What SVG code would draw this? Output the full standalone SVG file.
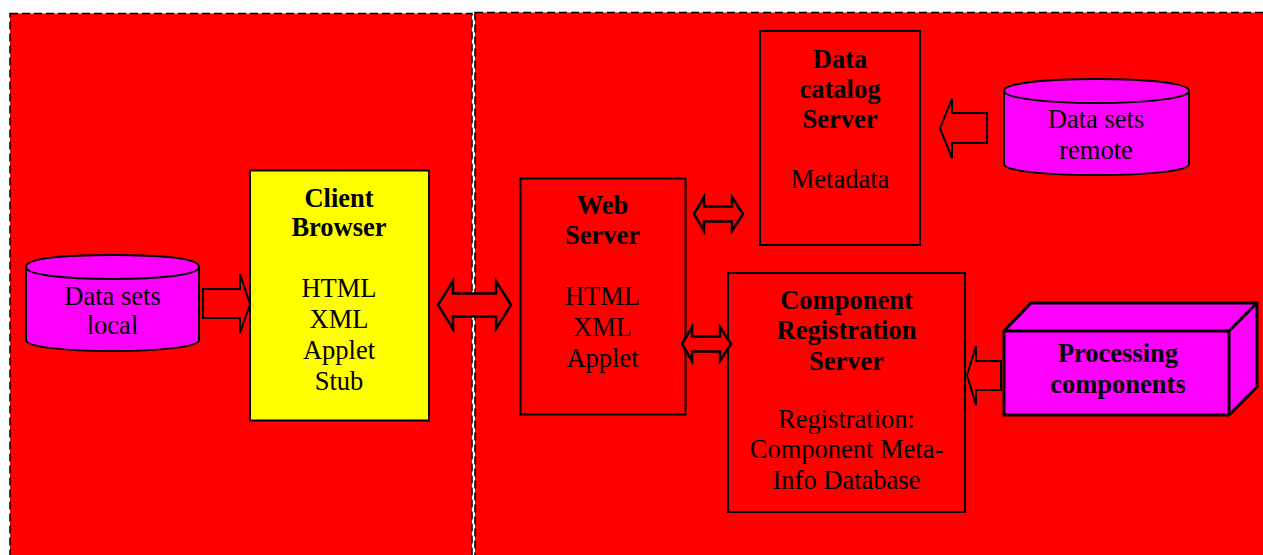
<svg xmlns="http://www.w3.org/2000/svg" width="1263" height="555" viewBox="0 0 1263 555">
<style>
.panel{fill:#f00;stroke:#000;stroke-width:1.5;stroke-dasharray:8 4}
.box{stroke:#000;stroke-width:2;fill:#f00}
.mag{fill:#f0f;stroke:#000;stroke-width:2}
.arrow{fill:#f00;stroke:#000;stroke-width:2}
.darrow{fill:#f00;stroke:#000;stroke-width:2.5}
text{font-family:"Liberation Serif","Times New Roman",serif;font-size:26.5px;text-anchor:middle;fill:#000}
.b{font-weight:bold}
</style>
<rect width="1263" height="555" fill="#fff"/>
<g id="panel-client"><rect class="panel" x="10" y="13.500" width="462" height="560"/></g>
<g id="panel-server"><rect class="panel" x="475" y="12.500" width="800" height="560"/></g>
<g id="node-local">
<path class="mag" d="M26 267C26 258 65 255 112.500 255S199 258 199 267V340C199 347 160 351 112.500 351S26 347 26 340Z"/>
<path class="mag" d="M26 267C26 275 65 279 112.500 279S199 275 199 267" style="fill:none"/>
<text x="112.500" y="305">Data sets</text><text x="112.500" y="334">local</text>
</g>
<g id="node-client">
<rect class="box" x="250" y="170.500" width="179" height="250" style="fill:#ff0"/>
<text class="b" x="339" y="207">Client</text><text class="b" x="339" y="236">Browser</text>
<text x="339" y="297">HTML</text><text x="339" y="328">XML</text><text x="339" y="359">Applet</text><text x="339" y="390">Stub</text>
</g>
<g id="node-web">
<rect class="box" x="520.500" y="178.500" width="165" height="236"/>
<text class="b" x="602.500" y="214">Web</text><text class="b" x="602.500" y="244">Server</text>
<text x="602.500" y="305">HTML</text><text x="602.500" y="336">XML</text><text x="602.500" y="367">Applet</text>
</g>
<g id="node-catalog">
<rect class="box" x="760" y="31" width="160" height="214"/>
<text class="b" x="840" y="68">Data</text><text class="b" x="840" y="98">catalog</text><text class="b" x="840" y="128">Server</text>
<text x="840" y="188">Metadata</text>
</g>
<g id="node-remote">
<path class="mag" d="M1004 91C1004 83 1045 79 1096.500 79S1189 83 1189 91V164C1189 171 1148 175 1096.500 175S1004 171 1004 164Z"/>
<path class="mag" d="M1004 91C1004 98 1045 103 1096.500 103S1189 98 1189 91" style="fill:none"/>
<text x="1096" y="128">Data sets</text><text x="1096" y="158.500">remote</text>
</g>
<g id="node-registration">
<rect class="box" x="728" y="273" width="237" height="239"/>
<text class="b" x="846.500" y="309">Component</text><text class="b" x="846.500" y="339">Registration</text><text class="b" x="846.500" y="370">Server</text>
<text x="846.500" y="428">Registration:</text><text x="846.500" y="458">Component Meta-</text><text x="846.500" y="489">Info Database</text>
</g>
<g id="node-processing">
<path class="mag" style="stroke-width:3" d="M1004 331L1031 303H1257V387L1229 415H1004Z"/>
<path class="mag" style="stroke-width:3;fill:none" d="M1004 331H1229V415M1229 331L1257 303"/>
<text class="b" x="1118" y="362">Processing</text><text class="b" x="1118" y="393">components</text>
</g>
<g id="connectors">
<path class="arrow" d="M203 289H240V274L250 304L240 333V318H203Z"/>
<path class="darrow" d="M438 305L453 281V293.500H496V281L511 305L496 329V316.500H453V329Z"/>
<path class="darrow" d="M694 214L704 197V206.500H732V197L743 214L732 231V221.500H704V231Z"/>
<path class="darrow" d="M682 344L692 327V336.500H720V327L731 344L720 361V351.500H692V361Z"/>
<path class="arrow" d="M987 113H952V98.500L940 128.500L952 158V143H987Z"/>
<path class="arrow" d="M1001 361H976V346L967 375L976 405V390H1001Z"/>
</g>
</svg>
